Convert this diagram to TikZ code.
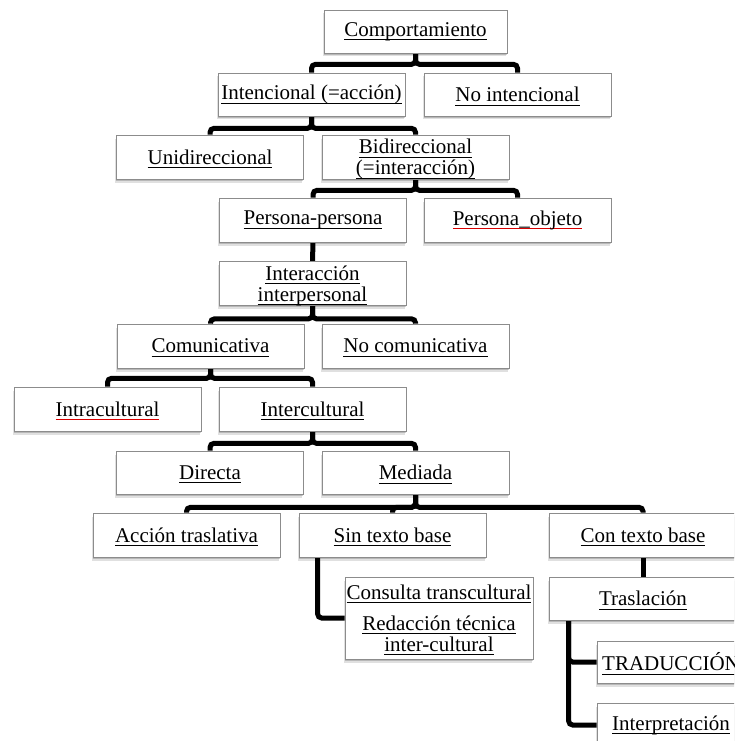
\documentclass[tikz,border=0pt]{standalone}
\usepackage{fontspec}
\setmainfont{Liberation Serif}
\usetikzlibrary{shadows,backgrounds}
% underlined label text; the rule colour is the first argument
\newsavebox{\labelbox}
\newcommand{\ulc}[2]{\sbox{\labelbox}{#2}\rlap{\smash{\textcolor{#1}{\rule[-4pt]{\wd\labelbox}{0.9pt}}}}\usebox{\labelbox}}
\newcommand{\ul}[1]{\ulc{black}{#1}}
\newcommand{\redul}[1]{\ulc{red!85!black}{#1}}
\begin{document}
\begin{tikzpicture}[x=1pt,y=-1pt,
  lbl/.style={inner sep=0pt, align=center, font=\fontsize{21}{21}\selectfont},
  box/.style={lbl, draw=black!45, line width=0.7pt, fill=white,
    minimum width=187pt, minimum height=44pt,
    general shadow={shadow xshift=-1.5pt, shadow yshift=-3.5pt, fill=black, opacity=0.12},
    general shadow={shadow xshift=-0.5pt, shadow yshift=-2pt, fill=black, opacity=0.18}},
  twoline/.style={text height=39.5pt},
  conn/.style={line width=5pt, black, rounded corners=4pt}]
\useasboundingbox (0,0) rectangle (734,741);
\clip (0,0) rectangle (734,741);

% level 1
\node[box, minimum width=183pt, minimum height=43pt] (comp) at (415.5,31.5) {\ul{Comportamiento}};
% level 2
\node[box, minimum height=43pt] (inten) at (311.5,94.5) {\ul{Intencional (=acción)}};
\node[box, minimum height=43pt] (noint) at (517.5,94.5) {\ul{No intencional}};
% level 3
\node[box] (uni) at (210,157) {\ul{Unidireccional}};
\node[box, twoline] (bi) at (415.5,157) {\ul{Bidireccional}\\\ul{(=interacción)}};
% level 4
\node[box] (pp) at (313,220) {\ul{Persona-persona}};
\node[box] (po) at (517.5,220) {\redul{Persona\_objeto}};
% level 5
\node[box, twoline, minimum height=43pt] (ii) at (312.5,283.5) {\ul{Interacción}\\\ul{interpersonal}};
% level 6
\node[box] (com) at (210.5,346) {\ul{Comunicativa}};
\node[box] (nocom) at (415.5,346) {\ul{No comunicativa}};
% level 7
\node[box] (intra) at (107.5,409) {\redul{Intracultural}};
\node[box] (inter) at (312.5,409) {\ul{Intercultural}};
% level 8
\node[box, minimum height=43pt] (dir) at (210,472.5) {\ul{Directa}};
\node[box, minimum height=43pt] (med) at (415.5,472.5) {\ul{Mediada}};
% level 9
\node[box] (acc) at (186.5,535) {\ul{Acción traslativa}};
\node[box] (sin) at (392.5,535) {\ul{Sin texto base}};
\node[box, minimum width=188pt] (con) at (643,535) {\ul{Con texto base}};
% level 10
\node[box, minimum width=188pt, minimum height=82pt] (cons) at (439,618) {};
\node[lbl, anchor=north] (consText) at (439,584.5)
  {\ul{Consulta transcultural}\\[10pt]\ul{Redacción técnica}\\\ul{inter-cultural}};
\node[box, minimum width=188pt, minimum height=43pt] (tras) at (643,598.5) {\ul{Traslación}};
% level 11
\node[box, minimum width=148pt, minimum height=42pt] (trad) at (671,662) {\ul{TRADUCCIÓN}};
\node[box, minimum width=148pt] (interp) at (671,725) {\ul{Interpretación}};

\begin{scope}[on background layer]
\draw[conn] (comp.south) -- ++(0,11) -| (inten.north);
\draw[conn] (comp.south) -- ++(0,11) -| (noint.north);
\draw[conn] (inten.south) -- ++(0,12) -| (uni.north);
\draw[conn] (inten.south) -- ++(0,12) -| (bi.north);
\draw[conn] (bi.south) -- ++(0,11) -| (pp.north);
\draw[conn] (bi.south) -- ++(0,11) -| (po.north);
\draw[conn] (pp.south) -- (ii.north);
\draw[conn] (ii.south) -- ++(0,13) -| (com.north);
\draw[conn] (ii.south) -- ++(0,13) -| (nocom.north);
\draw[conn] (com.south) -- ++(0,10) -| (intra.north);
\draw[conn] (com.south) -- ++(0,10) -| (inter.north);
\draw[conn] (inter.south) -- ++(0,12) -| (dir.north);
\draw[conn] (inter.south) -- ++(0,12) -| (med.north);
\draw[conn] (med.south) -- ++(0,13) -| (acc.north);
\draw[conn] (med.south) -- ++(0,13) -| (sin.north);
\draw[conn] (med.south) -- ++(0,13) -| (con.north);
\draw[conn] ([xshift=19pt]sin.south west) |- (cons.west);
\draw[conn] (con.south) -- (tras.north);
\draw[conn] ([xshift=20pt]tras.south west) |- (trad.west);
\draw[conn] ([xshift=20pt]tras.south west) |- (interp.west);
\end{scope}
\end{tikzpicture}
\end{document}
